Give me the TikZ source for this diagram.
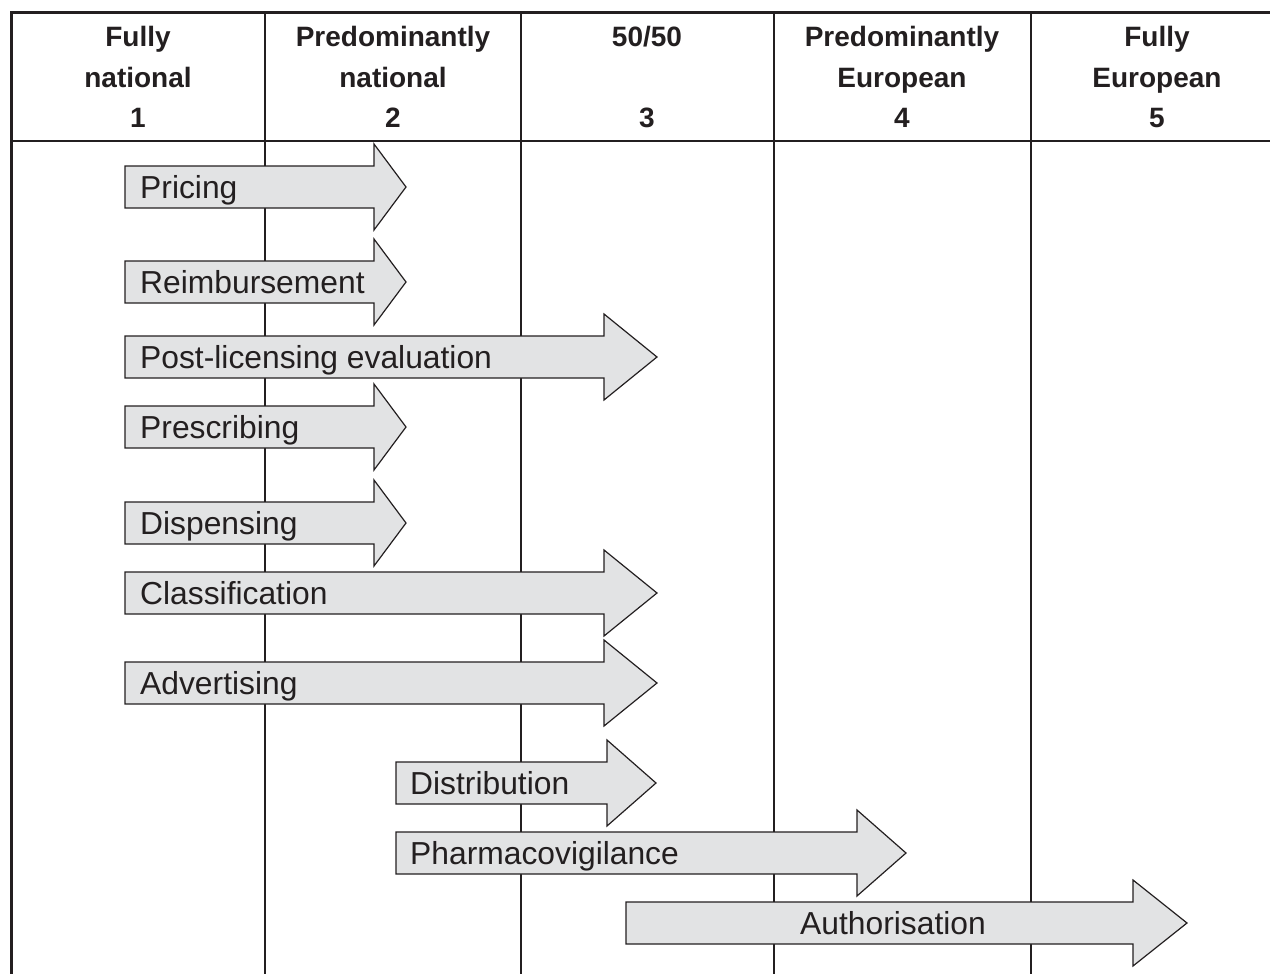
\documentclass[tikz,border=0pt]{standalone}
\usepackage{fontspec}
\setmainfont{Liberation Sans}
\definecolor{ink}{HTML}{231F20}
\definecolor{afill}{HTML}{E2E3E4}
\newcommand\harrow[7]{%
  \path[arr] (#2,#5-21) -- (#3,#5-21) -- (#3,#5-43) -- (#4,#5) -- (#3,#5+43) -- (#3,#5+21) -- (#2,#5+21) -- cycle;
  \node[lbl] (#1) at (#6,#5+11) {#7};}
\begin{document}
\begin{tikzpicture}[x=1pt,y=-1pt,
  frame/.style={draw=ink, line width=3pt},
  gridline/.style={draw=ink, line width=1.6pt},
  arr/.style={draw=ink, fill=afill, line width=1.2pt, line join=miter},
  hdr/.style={font=\fontsize{28}{34}\selectfont\bfseries, text=ink, inner sep=0pt, anchor=base},
  lbl/.style={font=\fontsize{31.8}{36}\selectfont, text=ink, inner sep=0pt, anchor=base west}]
\useasboundingbox (0,0) rectangle (1270,974);
% table frame
\draw[gridline] (11,141) -- (1280,141);
\foreach \x in {265,521,774,1031} \draw[gridline] (\x,13) -- (\x,980);
\draw[frame] (11,980) -- (11,13) -- (1280,13);
% header
\node[hdr] (h1a) at (138,47) {Fully};
\node[hdr] (h1b) at (138,88) {national};
\node[hdr] (h1c) at (138,128) {1};
\node[hdr] (h2a) at (393,47) {Predominantly};
\node[hdr] (h2b) at (393,88) {national};
\node[hdr] (h2c) at (393,128) {2};
\node[hdr] (h3a) at (647,47) {50/50};
\node[hdr] (h3c) at (647,128) {3};
\node[hdr] (h4a) at (902,47) {Predominantly};
\node[hdr] (h4b) at (902,88) {European};
\node[hdr] (h4c) at (902,128) {4};
\node[hdr] (h5a) at (1157,47) {Fully};
\node[hdr] (h5b) at (1157,88) {European};
\node[hdr] (h5c) at (1157,128) {5};
% arrows
\harrow{pricing}{125}{374}{406}{187}{140}{Pricing}
\harrow{reimb}{125}{374}{406}{282}{140}{Reimbursement}
\harrow{postlic}{125}{604}{657}{357}{140}{Post-licensing evaluation}
\harrow{prescr}{125}{374}{406}{427}{140}{Prescribing}
\harrow{disp}{125}{374}{406}{523}{140}{Dispensing}
\harrow{classif}{125}{604}{657}{593}{140}{Classification}
\harrow{advert}{125}{604}{657}{683}{140}{Advertising}
\harrow{distr}{396}{607}{656}{783}{410}{Distribution}
\harrow{pharma}{396}{857}{906}{853}{410}{Pharmacovigilance}
\path[arr] (626,902) -- (1133,902) -- (1133,880) -- (1187,923) -- (1133,966) -- (1133,944) -- (626,944) -- cycle;
\node[lbl, anchor=base] (author) at (893,934) {Authorisation};
\end{tikzpicture}
\end{document}
